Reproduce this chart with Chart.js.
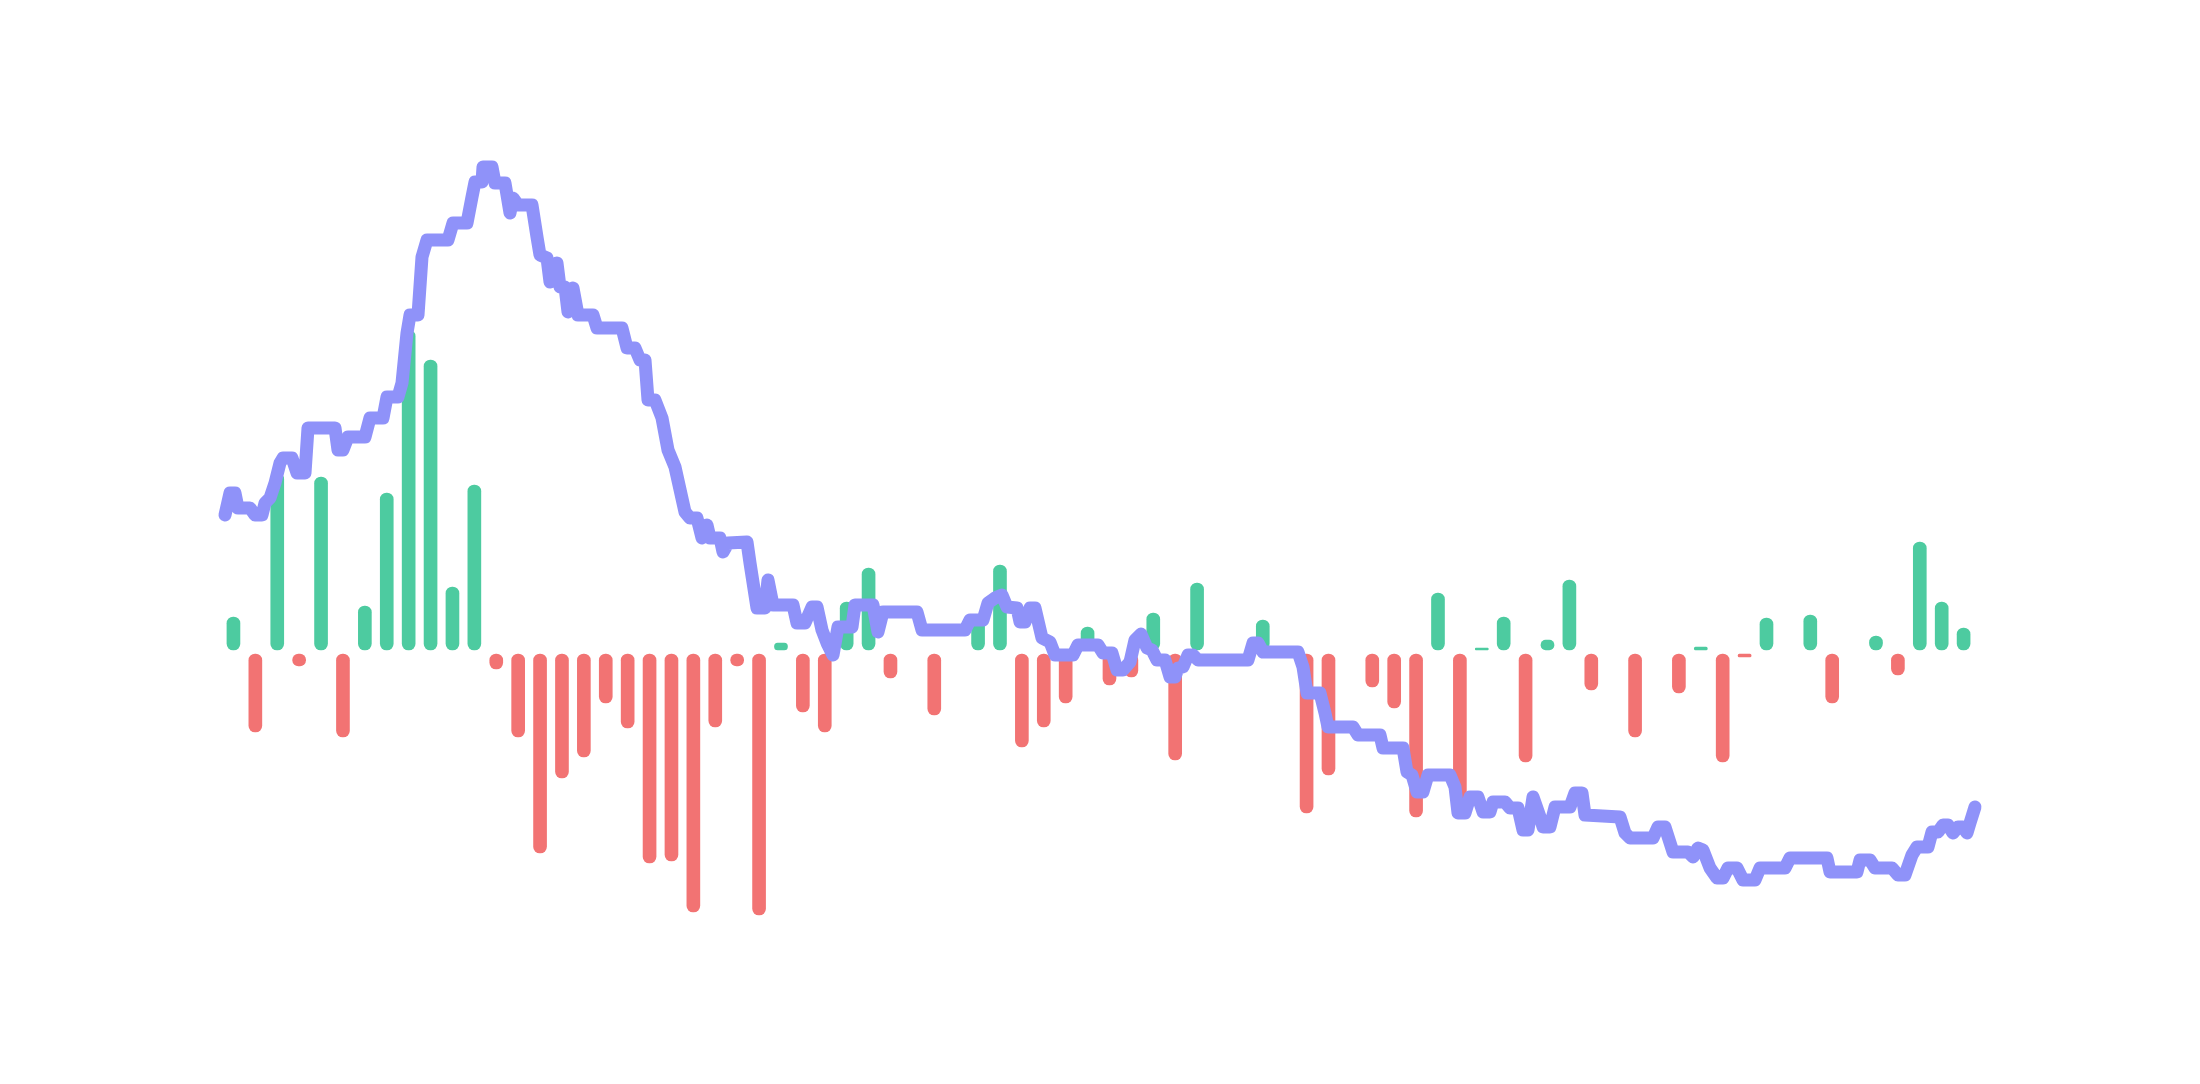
<!DOCTYPE html>
<html lang="en">
<head>
  <meta charset="UTF-8" />
  <title>Flow and price</title>
  <style>
    html, body { margin: 0; padding: 0; background: #fff; }
    #chart { display: block; }
  </style>
</head>
<body>
  <canvas id="chart" width="2200" height="1084"></canvas>
  <script src="https://cdn.jsdelivr.net/npm/chart.js"></script>
  <script>
    // net flow per period (bars), null = no bar
    const flow = [
      37, -82, 181, -16, 177, -87, 48, 161, 324, 294,
      67, 169, -19, -87, -203, -128, -107, -53, -78, -213,
      -211, -262, -77, -16, -265, 11, -62, -82, 52, 86,
      -28, null, -65, null, 34, 89, -97, -77, -53, 27,
      -35, -27, 41, -110, 71, null, null, 34, null, -163,
      -125, null, -37, -58, -167, 61, -153, 6, 37, -112,
      14, 74, -40, null, -87, null, -43, 7, -112, -7,
      36, null, 39, -53, null, 18, -25, 112, 52, 26
    ];

    // price line: tick number and level
    const tick = [
      0, 5, 10, 13, 25, 30, 37, 40, 45, 50, 55, 58, 67, 72, 80, 83, 110, 113, 118, 123,
      140, 145, 158, 162, 173, 177, 182, 185, 193, 197, 202, 223, 228, 242, 247, 250, 257, 258, 267, 270,
      280, 285, 288, 293, 307, 312, 315, 322, 325, 332, 335, 340, 343, 348, 353, 368, 372, 397, 402, 410,
      415, 420, 423, 430, 437, 443, 450, 460, 465, 472, 477, 482, 485, 495, 498, 503, 522, 525, 532, 540,
      543, 548, 568, 572, 580, 587, 592, 597, 602, 608, 613, 627, 630, 648, 653, 658, 692, 697, 740, 745,
      758, 763, 770, 777, 782, 792, 795, 800, 805, 810, 817, 825, 830, 848, 853, 873, 878, 887, 892, 898,
      905, 910, 916, 922, 927, 932, 940, 945, 950, 953, 958, 963, 968, 973, 1023, 1028, 1033, 1038, 1073, 1078,
      1082, 1095, 1100, 1103, 1128, 1133, 1155, 1158, 1178, 1182, 1187, 1192, 1198, 1203, 1225, 1230, 1233, 1240, 1245, 1253,
      1258, 1265, 1268, 1280, 1285, 1293, 1298, 1303, 1308, 1315, 1318, 1325, 1330, 1345, 1350, 1357, 1360, 1395, 1400, 1405,
      1428, 1433, 1440, 1448, 1463, 1468, 1473, 1478, 1485, 1492, 1498, 1503, 1512, 1518, 1530, 1535, 1560, 1565, 1602, 1605,
      1632, 1635, 1645, 1650, 1667, 1673, 1680, 1687, 1692, 1703, 1707, 1713, 1718, 1723, 1728, 1733, 1738, 1742, 1745, 1750
    ];
    const level = [
      137, 159, 159, 144, 144, 137, 137, 149, 154, 169, 189, 194, 194, 179, 179, 224, 224, 202, 202, 215,
      215, 234, 234, 255, 255, 269, 319, 337, 337, 395, 412, 412, 429, 429, 455, 470, 470, 485, 485, 469,
      469, 439, 454, 447, 447, 415, 397, 394, 370, 389, 365, 365, 340, 364, 337, 337, 324, 324, 304, 304,
      292, 292, 252, 252, 234, 202, 185, 140, 134, 134, 114, 127, 114, 114, 100, 109, 110, 89, 44, 44,
      72, 47, 47, 29, 29, 45, 45, 22, 9, -3, 25, 25, 47, 47, 20, 40, 40, 22, 22, 32,
      32, 49, 54, 57, 45, 44, 30, 30, 44, 44, 14, 10, -3, -3, 7, 7, -1, -1, -18, -18,
      -10, 12, 18, 4, 2, -8, -8, -25, -25, -16, -15, -3, -3, -8, -8, 9, 9, 0, 0, -15,
      -41, -41, -61, -75, -75, -83, -83, -96, -96, -120, -123, -140, -140, -123, -123, -135, -161, -161, -145, -145,
      -160, -160, -150, -150, -156, -156, -178, -178, -145, -165, -175, -175, -155, -155, -141, -141, -163, -165, -181, -186,
      -186, -175, -175, -200, -200, -205, -196, -198, -216, -226, -226, -216, -216, -228, -228, -216, -216, -206, -206, -220,
      -220, -208, -208, -216, -216, -223, -223, -203, -195, -195, -180, -180, -173, -173, -181, -175, -175, -181, -171, -155
    ];

    const GREEN = '#4dcba0';
    const RED = '#f27373';
    const PURPLE = '#8f92f9';

    const ctx = document.getElementById('chart').getContext('2d');
    new Chart(ctx, {
      type: 'bar',
      data: {
        datasets: [
          {
            type: 'line',
            label: 'Price',
            data: tick.map((t, i) => ({ x: t, y: level[i] })),
            xAxisID: 'x2',
            borderColor: PURPLE,
            borderWidth: 13,
            borderJoinStyle: 'round',
            borderCapStyle: 'round',
            pointRadius: 0,
            tension: 0,
            fill: false,
            clip: false
          },
          {
            label: 'Flow',
            data: flow.map((v, i) => ({ x: i, y: v })),
            xAxisID: 'x',
            backgroundColor: c => (c.raw.y >= 0 ? GREEN : RED),
            borderColor: '#ffffff',
            borderWidth: 2,
            barThickness: 17,
            borderRadius: 9,
            borderSkipped: false
          }
        ]
      },
      options: {
        responsive: false,
        animation: false,
        devicePixelRatio: 1,
        layout: { autoPadding: false, padding: { left: 214, right: 223, top: 100, bottom: 100 } },
        plugins: { legend: { display: false }, tooltip: { enabled: false } },
        scales: {
          x: { type: 'linear', display: false, offset: false, min: -0.5, max: 80 },
          x2: { type: 'linear', display: false, offset: false, min: -11, max: 1752 },
          y: { display: false, min: -332, max: 552 }
        }
      }
    });
  </script>
</body>
</html>
